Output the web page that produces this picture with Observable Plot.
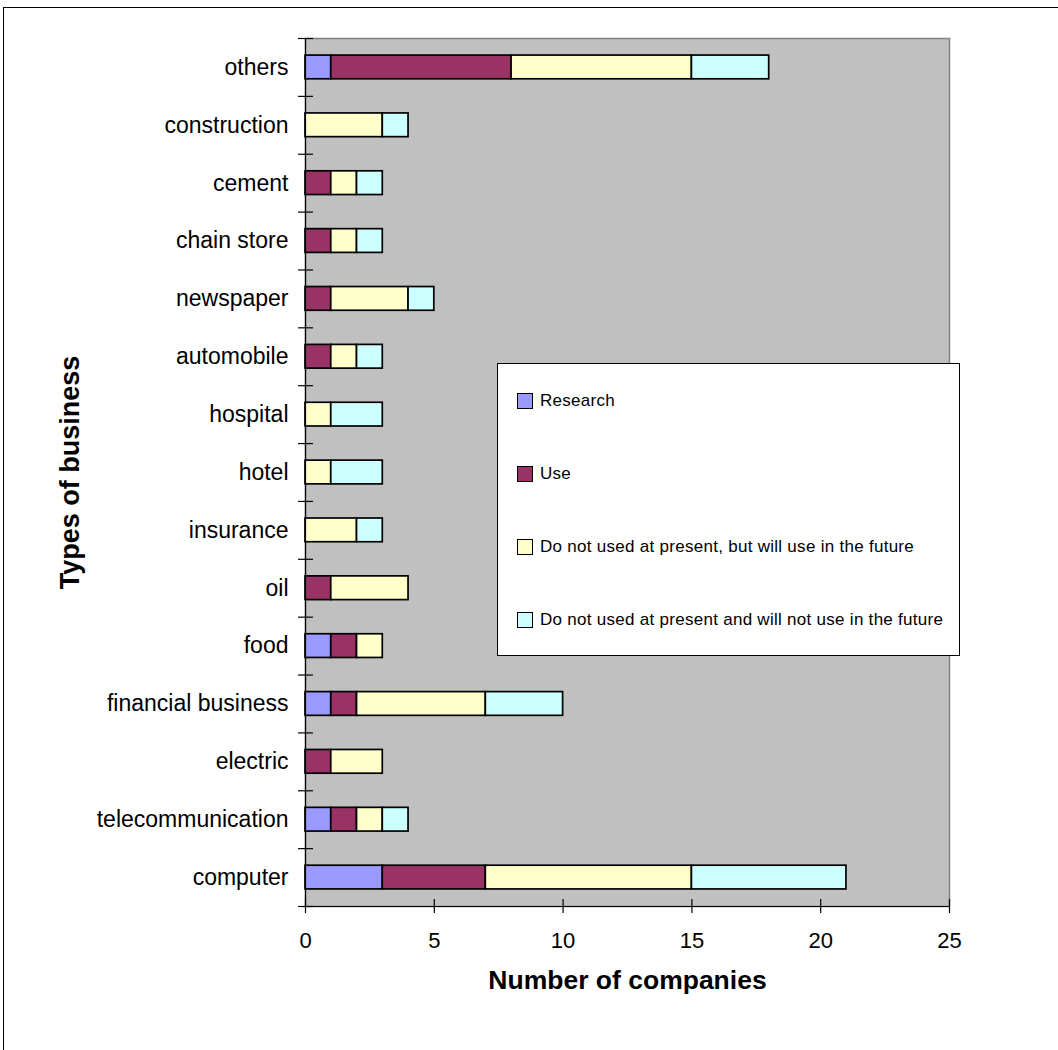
<!DOCTYPE html>
<html>
<head>
<meta charset="utf-8">
<script src="https://cdn.jsdelivr.net/npm/d3@7"></script>
<script src="https://cdn.jsdelivr.net/npm/@observablehq/plot@0.6"></script>
<style>
  html, body { margin: 0; padding: 0; background: #fff; overflow: hidden; }
  #wrap { position: relative; width: 1058px; height: 1050px; font-family: "Liberation Sans", Arial, sans-serif; }
  #outer { position: absolute; left: 3px; top: 7px; width: 1200px; height: 1200px; border: 1px solid #000; box-sizing: border-box; pointer-events: none; }
  #chart { position: absolute; left: 0; top: 0; }
  #legend { position: absolute; left: 497px; top: 363px; width: 463px; height: 293px; box-sizing: border-box; border: 1px solid #000; background: #fff; }
  .item { position: absolute; left: 19px; height: 20px; line-height: 20px; display: flex; align-items: center; font-size: 17px; letter-spacing: 0.28px; color: #000; white-space: nowrap; }
  .sw { width: 16px; height: 16px; border: 1.5px solid #000; box-sizing: border-box; margin-right: 7px; }
</style>
</head>
<body>
<div id="wrap">
  <div id="outer"></div>
  <div id="chart"></div>
  <div id="legend"></div>
</div>
<script>
// Categories, top to bottom
const categories = ["others", "construction", "cement", "chain store", "newspaper", "automobile", "hospital", "hotel", "insurance", "oil", "food", "financial business", "electric", "telecommunication", "computer"];
const seriesNames = ["Research", "Use", "Do not used at present, but will use in the future", "Do not used at present and will not use in the future"];
const research = [1, 0, 0, 0, 0, 0, 0, 0, 0, 0, 1, 1, 0, 1, 3];
const use      = [7, 0, 1, 1, 1, 1, 0, 0, 0, 1, 1, 1, 1, 1, 4];
const future   = [7, 3, 1, 1, 3, 1, 1, 1, 2, 3, 1, 5, 2, 1, 8];
const never    = [3, 1, 1, 1, 1, 1, 2, 2, 1, 0, 0, 3, 0, 1, 6];
const xTicks = [0, 5, 10, 15, 20, 25];
const colors = ["#9999FF", "#993366", "#FFFFCC", "#CCFFFF"];

const seriesValues = [research, use, future, never];
const rows = [];
seriesNames.forEach((s, si) => {
  categories.forEach((c, ci) => {
    rows.push({category: c, series: s, value: seriesValues[si][ci]});
  });
});

const font = "Liberation Sans, Arial, sans-serif";
const halfStep = 868 / 30;
const last = categories[categories.length - 1];
const chart = Plot.plot({
  width: 1058,
  height: 1050,
  marginLeft: 305,
  marginRight: 109,
  marginTop: 38,
  marginBottom: 144,
  style: {fontFamily: font, background: "transparent", overflow: "visible"},
  x: {domain: [0, 25], ticks: xTicks},
  y: {domain: categories, paddingInner: 0.59, paddingOuter: 0.295, round: false},
  color: {domain: seriesNames, range: colors},
  marks: [
    Plot.frame({fill: "#C0C0C0", stroke: "#808080", strokeWidth: 1.5}),
    Plot.barX(rows, Plot.stackX({x: "value", y: "category", fill: "series", order: seriesNames, stroke: "#000", strokeWidth: 1.7})),
    Plot.ruleX([0], {stroke: "#000", strokeWidth: 1.2}),
    Plot.ruleY([last], {dy: halfStep, stroke: "#000", strokeWidth: 1.2}),
    // category boundary ticks
    Plot.ruleY(categories, {y: d => d, x1: -0.27, x2: 0.31, dy: -halfStep, stroke: "#000", strokeWidth: 1.2}),
    Plot.ruleY([last], {y: d => d, x1: -0.27, x2: 0.31, dy: halfStep, stroke: "#000", strokeWidth: 1.2}),
    Plot.axisY({tickSize: 0, tickPadding: 17, fontSize: 23, label: null}),
    Plot.axisX({ticks: xTicks, tickSize: 14, dy: -7, tickFormat: () => "", label: null, strokeWidth: 1.2}),
    Plot.axisX({ticks: xTicks, tickSize: 0, tickPadding: 26, fontSize: 22, label: null}),
    Plot.text(["Number of companies"], {frameAnchor: "bottom", dy: 74, lineAnchor: "middle", fontSize: 26.5, fontWeight: "bold", fill: "#000"}),
    Plot.text(["Types of business"], {frameAnchor: "left", dx: -235, rotate: -90, textAnchor: "middle", lineAnchor: "middle", fontSize: 27, fontWeight: "bold", fill: "#000"})
  ]
});
document.getElementById("chart").appendChild(chart);

const legend = document.getElementById("legend");
const itemTops = [27, 100, 173, 246];
seriesNames.forEach((s, i) => {
  const it = document.createElement("div");
  it.className = "item";
  it.style.top = itemTops[i] + "px";
  const sw = document.createElement("div");
  sw.className = "sw";
  sw.style.background = colors[i];
  const t = document.createElement("span");
  t.textContent = s;
  it.appendChild(sw);
  it.appendChild(t);
  legend.appendChild(it);
});
</script>
</body>
</html>
